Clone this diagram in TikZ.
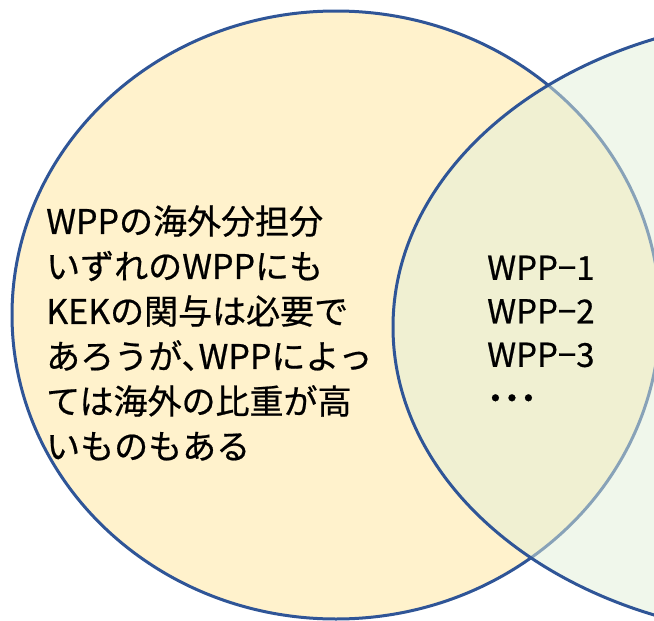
\documentclass[tikz,border=0pt]{standalone}
\usepackage{fontspec}
\setmainfont{Noto Sans CJK JP}
\newfontfamily\jpthick[FakeBold=0.6]{Noto Sans CJK JP}
\definecolor{lineblue}{HTML}{2F5597}
\definecolor{lefty}{HTML}{FFF2CC}
\definecolor{rightg}{HTML}{E2F0D9}
\tikzset{
  venn/.style={draw=lineblue, line width=3pt},
  txt/.style={inner sep=0pt, align=left, anchor=west, font=\jpthick\fontsize{34}{45}\selectfont}
}
\begin{document}
\begin{tikzpicture}[x=1pt,y=-1pt]
\useasboundingbox (0,0) rectangle (654,621);
\clip (0,0) rectangle (654,621);
\fill[white] (0,0) rectangle (654,621);
\draw[venn, fill=lefty] (336,315) ellipse [x radius=324pt, y radius=304pt];
\draw[venn, fill=rightg, fill opacity=0.5] (808,327) ellipse [x radius=415pt, y radius=310pt];
\node[txt] (left) at (46,333) {WPPの海外分担分\\いずれのWPPにも\\KEKの関与は必要で\\あろうが、\kern-17pt WPPによっ\\ては海外の比重が高\\いものもある};
\node[txt, font=\jpthick\fontsize{33}{43.5}\selectfont] (right) at (487,333) {WPP−1\\WPP−2\\WPP−3\\{\bfseries ･･･}};
\end{tikzpicture}
\end{document}
